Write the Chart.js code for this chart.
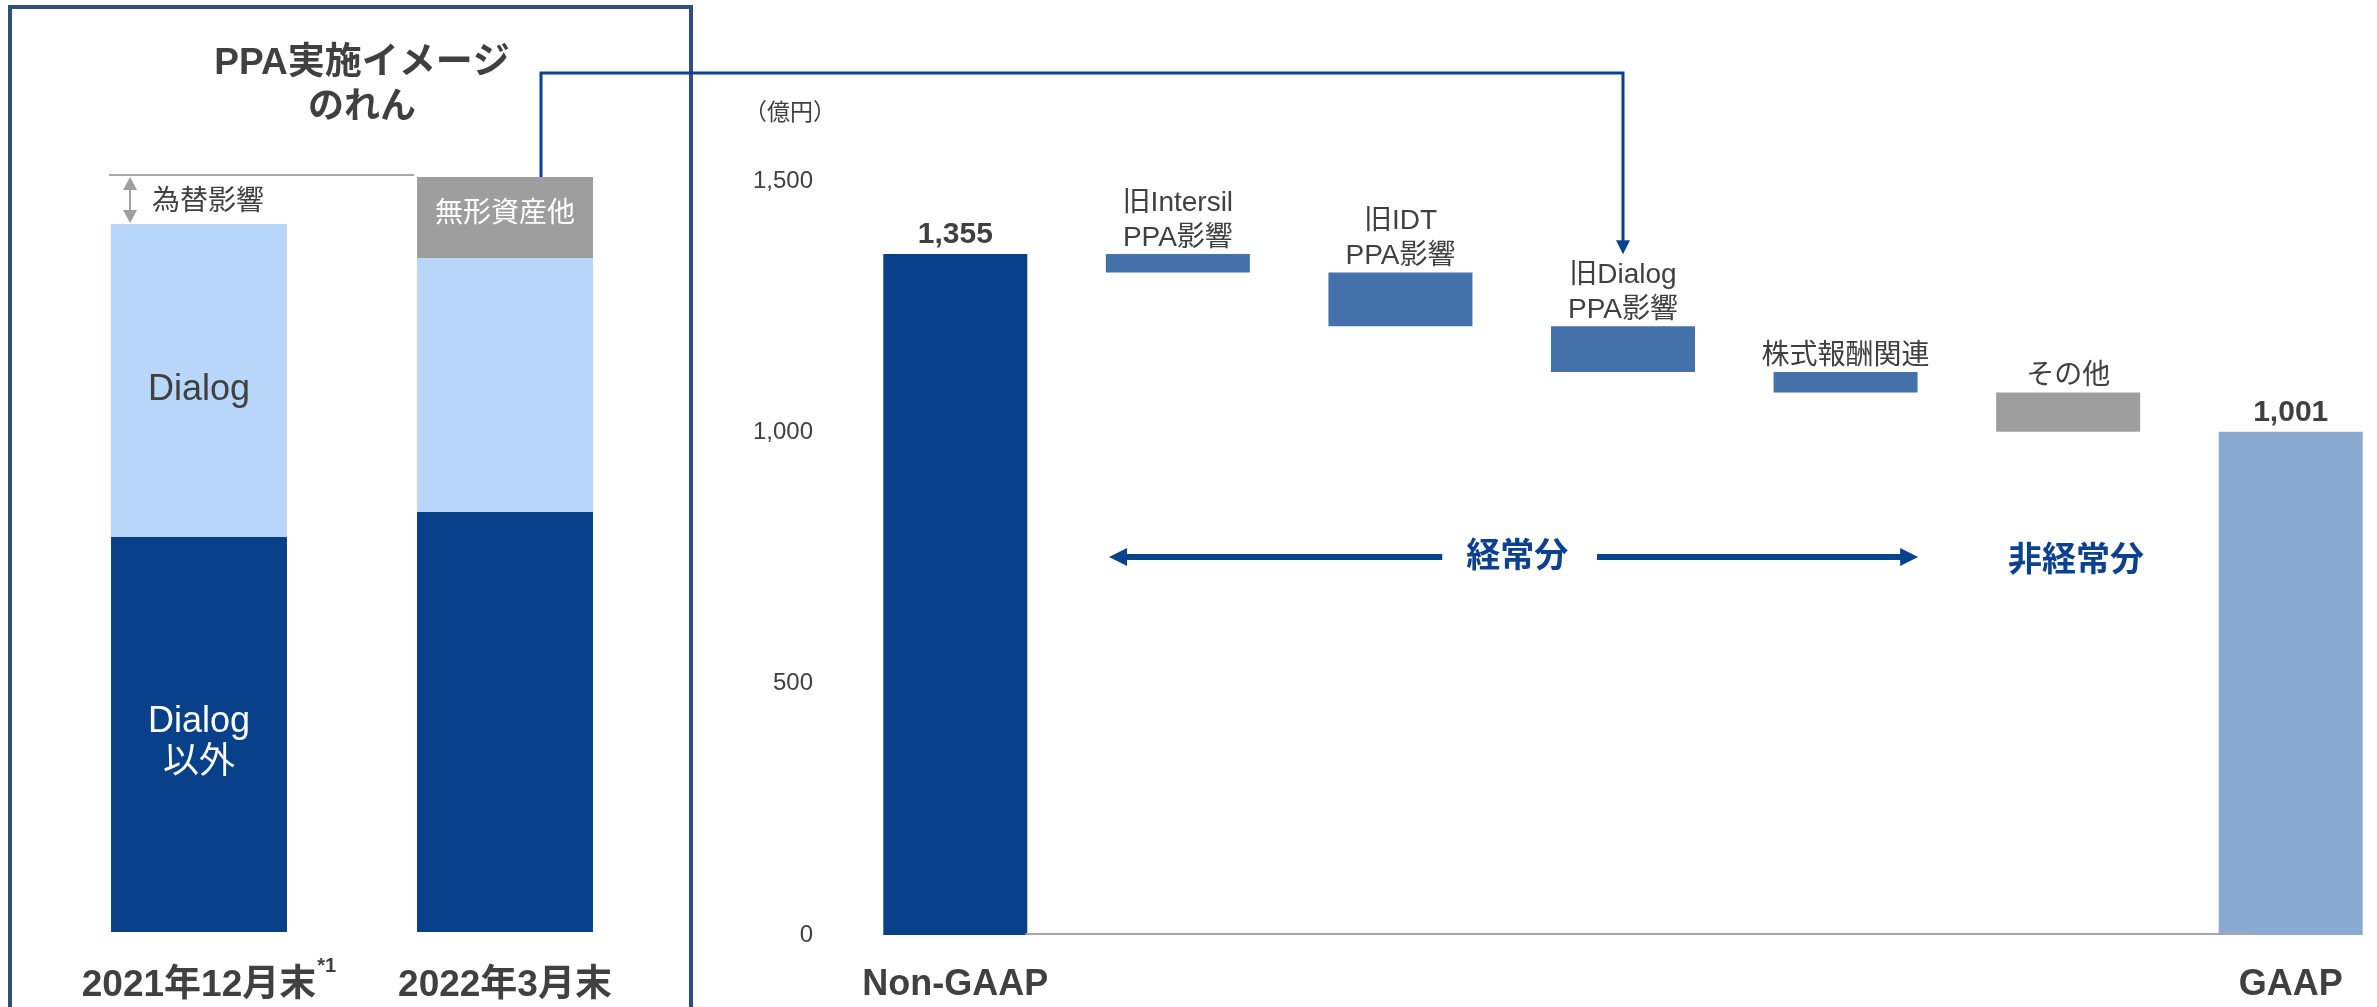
<!DOCTYPE html>
<html lang="ja">
<head>
<meta charset="utf-8">
<title>PPA影響</title>
<script src="https://cdn.jsdelivr.net/npm/chart.js@4.4.1/dist/chart.umd.min.js"></script>
<style>
  html, body { margin: 0; padding: 0; background: #fff; overflow: hidden; }
  body { width: 2377px; height: 1007px; position: relative; }
  #panel { position: absolute; left: 8px; top: 5px; width: 685px; height: 1012px; border: 4px solid #2f4f7c; box-sizing: border-box; }
  canvas { position: absolute; left: 0; top: 0; }
</style>
</head>
<body>
<div id="panel"></div>
<canvas id="leftChart" width="700" height="1007"></canvas>
<canvas id="rightChart" width="2402" height="1007"></canvas>
<script>
// left panel: goodwill image (no scale shown, relative sizes)
const leftLabels = ["2021年12月末", "2022年3月末"];
const dialogOther = [395, 420];
const dialogPart = [313, 254];
const intangible = [0, 81];

// right panel: Non-GAAP -> GAAP (億円)
const stepLabels = ["Non-GAAP", "旧Intersil\nPPA影響", "旧IDT\nPPA影響", "旧Dialog\nPPA影響", "株式報酬関連", "その他", "GAAP"];
const nonGaap = 1355;
const adjustments = [-37, -107, -91, -41, -78];
const gaap = 1001;
const yTicks = [0, 500, 1000, 1500];

const stepColors = ["#08418a", "#4471aa", "#4471aa", "#4471aa", "#4471aa", "#9e9e9e", "#8aa9d0"];
const FONT = '"Liberation Sans", Arial, "Noto Sans CJK JP", sans-serif';
const TEXT = "#404040";
const NAVY = "#0a4290";

// floating bars for the waterfall
const floating = [[0, nonGaap]];
let level = nonGaap;
adjustments.forEach((d) => {
  floating.push([level + d, level]);
  level += d;
});
floating.push([0, gaap]);

function text(ctx, str, x, y, size, opts = {}) {
  ctx.save();
  ctx.font = (opts.bold ? "bold " : "") + size + "px " + FONT;
  ctx.fillStyle = opts.color || TEXT;
  ctx.textAlign = opts.align || "center";
  ctx.textBaseline = "middle";
  ctx.fillText(str, x, y);
  ctx.restore();
}

function arrowHead(ctx, x, y, dir, len, half) {
  // dir: "left" | "right" | "up" | "down", (x,y) is the tip
  ctx.beginPath();
  ctx.moveTo(x, y);
  if (dir === "left") { ctx.lineTo(x + len, y - half); ctx.lineTo(x + len, y + half); }
  if (dir === "right") { ctx.lineTo(x - len, y - half); ctx.lineTo(x - len, y + half); }
  if (dir === "up") { ctx.lineTo(x - half, y + len); ctx.lineTo(x + half, y + len); }
  if (dir === "down") { ctx.lineTo(x - half, y - len); ctx.lineTo(x + half, y - len); }
  ctx.closePath();
  ctx.fill();
}

const leftDecor = {
  id: "leftDecor",
  afterDatasetsDraw(chart) {
    const ctx = chart.ctx;
    const y = chart.scales.y;
    const other = chart.getDatasetMeta(0).data;
    const dlg = chart.getDatasetMeta(1).data;
    const intg = chart.getDatasetMeta(2).data;
    const midX = (other[0].x + other[1].x) / 2 + 10;

    text(ctx, "PPA実施イメージ", midX, 64, 37, { bold: true });
    text(ctx, "のれん", midX, 108, 36, { bold: true });

    // fx reference line at the level of the 2022 total
    const total2 = dialogOther[1] + dialogPart[1] + intangible[1];
    const lineY = y.getPixelForValue(total2) - 2;
    const left0 = other[0].x - other[0].width / 2;
    const left1 = other[1].x - other[1].width / 2;
    ctx.save();
    ctx.strokeStyle = "#a6a6a6";
    ctx.lineWidth = 2;
    ctx.beginPath();
    ctx.moveTo(left0 - 2, lineY);
    ctx.lineTo(left1 - 3, lineY);
    ctx.stroke();

    // double arrow for 為替影響
    const ax = left0 + 19;
    const topY = dlg[0].y;
    ctx.fillStyle = "#a0a0a0";
    ctx.strokeStyle = "#a0a0a0";
    ctx.beginPath();
    ctx.moveTo(ax, lineY + 8);
    ctx.lineTo(ax, topY - 8);
    ctx.stroke();
    arrowHead(ctx, ax, lineY + 2, "up", 13, 7);
    arrowHead(ctx, ax, topY - 1, "down", 13, 7);
    ctx.restore();
    text(ctx, "為替影響", ax + 22, (lineY + topY) / 2 + 3, 28, { align: "left" });

    // segment labels
    text(ctx, "Dialog", dlg[0].x, (dlg[0].y + dlg[0].base) / 2 + 10, 36);
    const oc = (other[0].y + other[0].base) / 2 + 8;
    text(ctx, "Dialog", other[0].x, oc - 20, 36, { color: "#fff" });
    text(ctx, "以外", other[0].x, oc + 21, 36, { color: "#fff" });
    text(ctx, "無形資産他", intg[1].x, (intg[1].y + intg[1].base) / 2 - 3, 28, { color: "#fff" });

    // footnote mark on the first category
    ctx.save();
    ctx.font = "bold 37px " + FONT;
    const w = ctx.measureText(leftLabels[0]).width;
    ctx.restore();
    text(ctx, "*1", other[0].x + w / 2 + 1, 966, 20, { bold: true, align: "left" });
  },
};

const leftChart = new Chart(document.getElementById("leftChart"), {
  type: "bar",
  data: {
    labels: leftLabels,
    datasets: [
      { label: "Dialog以外", data: dialogOther, backgroundColor: "#08418a" },
      { label: "Dialog", data: dialogPart, backgroundColor: "#b8d6fa" },
      { label: "無形資産他", data: intangible, backgroundColor: "#9e9e9e" },
    ],
  },
  options: {
    responsive: false,
    animation: false,
    layout: { padding: { left: 46, right: 42, top: 100, bottom: 0 } },
    datasets: { bar: { barPercentage: 1, categoryPercentage: 0.575 } },
    plugins: { legend: { display: false }, tooltip: { enabled: false } },
    scales: {
      x: {
        stacked: true,
        grid: { display: false },
        border: { display: false },
        ticks: { color: TEXT, font: { family: FONT, size: 37, weight: "bold" }, padding: 24 },
        afterFit: (s) => { s.height = 75; },
      },
      y: { stacked: true, display: false, min: 0, max: 832 },
    },
  },
  plugins: [leftDecor],
});

const rightDecor = {
  id: "rightDecor",
  afterDatasetsDraw(chart) {
    const ctx = chart.ctx;
    const x = chart.scales.x;
    const y = chart.scales.y;
    const bars = chart.getDatasetMeta(0).data;
    const last = bars.length - 1;

    // baseline between the two totals
    ctx.save();
    ctx.strokeStyle = "#a6a6a6";
    ctx.lineWidth = 2;
    ctx.beginPath();
    ctx.moveTo(x.getPixelForValue(0.315), y.getPixelForValue(0) - 1);
    ctx.lineTo(x.getPixelForValue(5.834), y.getPixelForValue(0) - 1);
    ctx.stroke();
    ctx.restore();

    // unit
    text(ctx, "（億円）", chart.chartArea.left - 54, 114, 23);

    // totals
    text(ctx, nonGaap.toLocaleString("en-US"), bars[0].x, bars[0].y - 19, 30, { bold: true });
    text(ctx, gaap.toLocaleString("en-US"), bars[last].x, bars[last].y - 19, 30, { bold: true });

    // step labels above the floating bars
    for (let i = 1; i < last; i++) {
      const lines = stepLabels[i].split("\n");
      lines.forEach((ln, k) => {
        const off = (lines.length - 1 - k) * 35;
        text(ctx, ln, bars[i].x, bars[i].y - 16 - off, 28);
      });
    }

    // 経常分 / 非経常分
    const ay = y.getPixelForValue(752);
    ctx.save();
    ctx.strokeStyle = "#08428a";
    ctx.fillStyle = "#08428a";
    ctx.lineWidth = 6;
    const l0 = x.getPixelForValue(0.691), l1 = x.getPixelForValue(2.188);
    const r0 = x.getPixelForValue(2.883), r1 = x.getPixelForValue(4.326);
    ctx.beginPath();
    ctx.moveTo(l0 + 14, ay);
    ctx.lineTo(l1, ay);
    ctx.moveTo(r0, ay);
    ctx.lineTo(r1 - 14, ay);
    ctx.stroke();
    arrowHead(ctx, l0, ay, "left", 18, 9);
    arrowHead(ctx, r1, ay, "right", 18, 9);
    ctx.restore();
    text(ctx, "経常分", x.getPixelForValue(2.525), ay + 1, 34, { bold: true, color: NAVY });
    text(ctx, "非経常分", x.getPixelForValue(5.035), ay + 5, 34, { bold: true, color: NAVY });

    // connector from the intangible block to the Dialog PPA step
    const src = leftChart.getDatasetMeta(2).data[1];
    const sx = src.x + 36;
    const tx = bars[3].x;
    const tipY = bars[3].y - 72;
    ctx.save();
    ctx.strokeStyle = NAVY;
    ctx.fillStyle = NAVY;
    ctx.lineWidth = 3;
    ctx.beginPath();
    ctx.moveTo(sx, src.y);
    ctx.lineTo(sx, 73);
    ctx.lineTo(tx, 73);
    ctx.lineTo(tx, tipY - 10);
    ctx.stroke();
    arrowHead(ctx, tx, tipY, "down", 14, 7);
    ctx.restore();
  },
};

const rightChart = new Chart(document.getElementById("rightChart"), {
  type: "bar",
  data: {
    labels: stepLabels,
    datasets: [{
      data: floating,
      backgroundColor: stepColors,
      barPercentage: 1,
      categoryPercentage: 0.647,
    }],
  },
  options: {
    responsive: false,
    animation: false,
    layout: { padding: { left: 700, right: 0, top: 181, bottom: 0 } },
    plugins: { legend: { display: false }, tooltip: { enabled: false } },
    scales: {
      x: {
        grid: { display: false },
        border: { display: false },
        ticks: {
          color: TEXT,
          font: { family: FONT, size: 36, weight: "bold" },
          padding: 20,
          maxRotation: 0,
          autoSkip: false,
          callback: (v, i) => (i === 0 || i === stepLabels.length - 1 ? stepLabels[i] : ""),
        },
        afterFit: (s) => { s.height = 72; },
      },
      y: {
        min: 0,
        max: 1500,
        grid: { display: false },
        border: { display: false },
        afterBuildTicks: (s) => { s.ticks = yTicks.map((v) => ({ value: v })); },
        ticks: {
          color: TEXT,
          font: { family: FONT, size: 24 },
          padding: 23,
          callback: (v) => v.toLocaleString("en-US"),
        },
        afterFit: (s) => { s.width = 144; },
      },
    },
  },
  plugins: [rightDecor],
});
</script>
</body>
</html>
